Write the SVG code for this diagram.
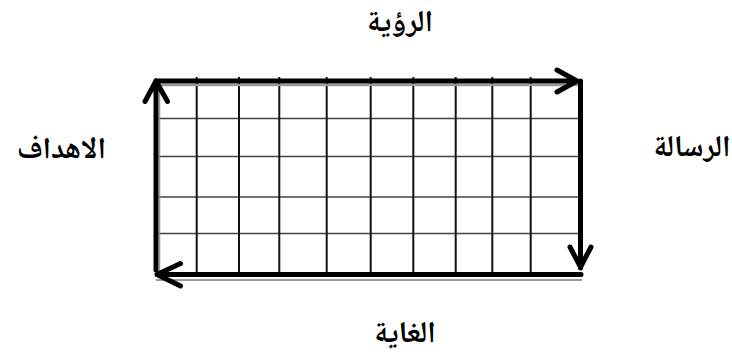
<svg xmlns="http://www.w3.org/2000/svg" width="732" height="361" viewBox="0 0 732 361">
<style>
.lbl{font-family:"Noto Naskh Arabic","Noto Sans Arabic","DejaVu Sans",sans-serif;font-weight:bold;font-size:30px;fill:#000;text-anchor:middle}
.v{stroke:#111;stroke-width:2}
.h{stroke:#444;stroke-width:1.5}
.sh{stroke:#999;fill:none}
.arr{stroke:#000;stroke-width:5;fill:none;stroke-linecap:round;stroke-linejoin:round}
</style>
<rect width="732" height="361" fill="#fff"/>
<g id="grid">
<line class="h" x1="156" y1="118.5" x2="580" y2="118.5"/>
<line class="h" x1="156" y1="156.5" x2="580" y2="156.5"/>
<line class="h" x1="156" y1="197" x2="580" y2="197"/>
<line class="h" x1="156" y1="233.5" x2="580" y2="233.5"/>
<line class="v" x1="196.7" y1="77" x2="196.7" y2="273"/>
<line class="v" x1="239" y1="77" x2="239" y2="273"/>
<line class="v" x1="279.3" y1="77" x2="279.3" y2="273"/>
<line class="v" x1="326.7" y1="77" x2="326.7" y2="273"/>
<line class="v" x1="370.7" y1="77" x2="370.7" y2="273"/>
<line class="v" x1="413.3" y1="77" x2="413.3" y2="273"/>
<line class="v" x1="455.7" y1="77" x2="455.7" y2="273"/>
<line class="v" x1="492.3" y1="77" x2="492.3" y2="273"/>
<line class="v" x1="530.7" y1="77" x2="530.7" y2="273"/>
<line class="sh" stroke-width="2.5" x1="156" y1="85" x2="581" y2="85"/>
<line class="sh" stroke-width="1.8" x1="156" y1="280" x2="582" y2="280"/>
<line class="sh" stroke-width="1.5" x1="159.5" y1="84" x2="159.5" y2="272"/>
</g>
<g id="connectors">
<path class="arr" d="M156,81 H577 M557,70 L577,81 L557,92"/>
<path class="arr" d="M580.5,81 V268 M570,247 L580.5,267 L591,247"/>
<path class="arr" d="M581,274.5 H157 M180.5,263.5 L157,274.5 L180.5,286"/>
<path class="arr" d="M156,270 V81 M145,101.5 L156,81 L167.5,101.5"/>
</g>
<g id="n-vision"><text class="lbl" x="400" y="31">الرؤية</text></g>
<g id="n-mission"><text class="lbl" x="692" y="156">الرسالة</text></g>
<g id="n-goal"><text class="lbl" x="405" y="342">الغاية</text></g>
<g id="n-objectives"><text class="lbl" x="61.5" y="158">الاهداف</text></g>
</svg>
